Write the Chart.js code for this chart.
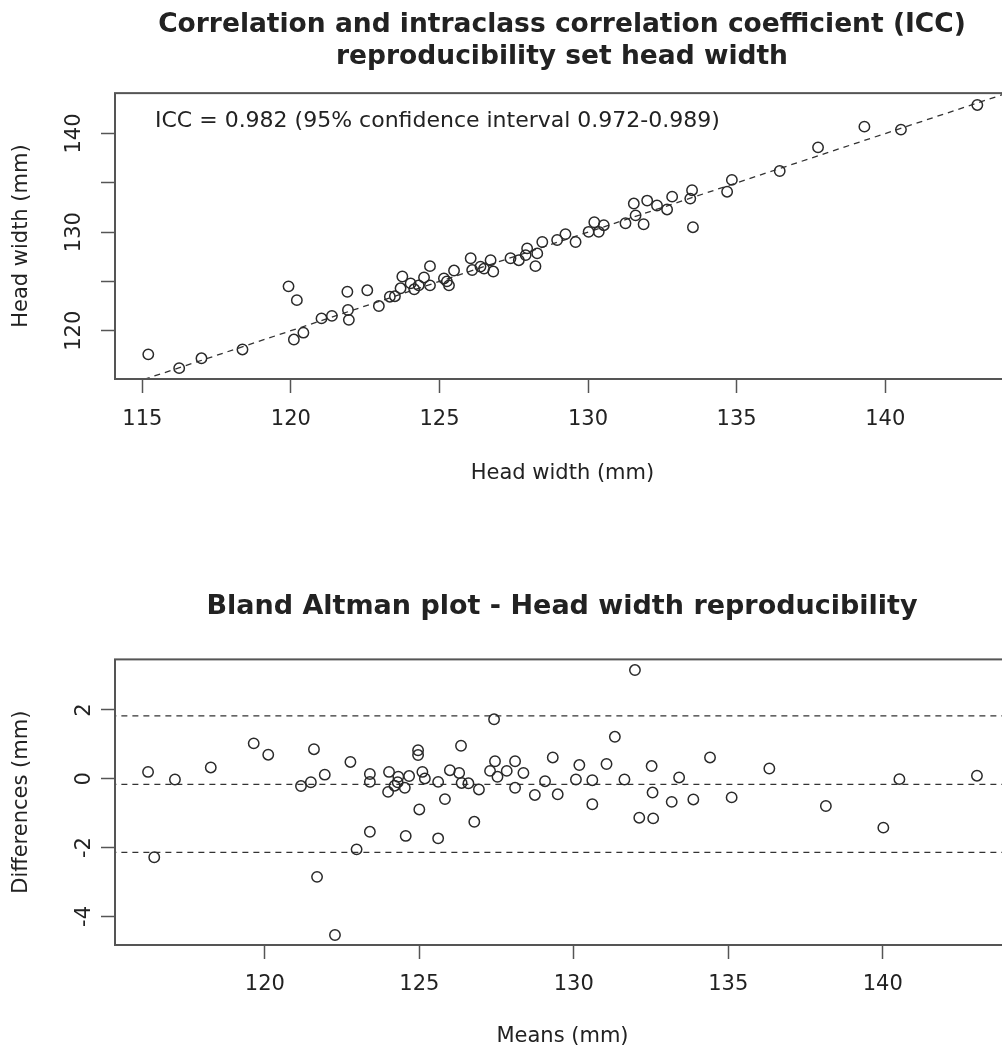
<!DOCTYPE html>
<html>
<head>
<meta charset="utf-8">
<script src="https://cdn.jsdelivr.net/npm/chart.js@4/dist/chart.umd.min.js"></script>
<style>
  body { margin: 0; background: #fff; overflow: hidden; }
  .plot { width: 1124px; height: 525px; }
</style>
</head>
<body>
<div class="plot"><canvas id="iccChart" width="1124" height="525"></canvas></div>
<div class="plot"><canvas id="blandChart" width="1124" height="525"></canvas></div>
<script>
// head width, first and second measurement (mm)
const firstMeasure = [115.2, 116.24, 116.99, 118.37, 119.92, 120.2, 120.1, 120.42, 121.03, 121.38,
  121.9, 121.92, 121.95, 122.57, 122.96, 123.33, 123.5, 123.75, 123.69, 124.03,
  124.15, 124.3, 124.68, 124.48, 124.68, 125.15, 125.32, 125.25, 125.49, 126.05,
  126.1, 126.38, 126.5, 126.72, 126.81, 127.39, 127.67, 127.95, 127.9, 128.29,
  128.23, 128.46, 128.96, 129.24, 129.58, 130.02, 130.21, 130.36, 130.53, 131.26,
  131.54, 131.6, 131.87, 131.99, 132.32, 132.66, 132.83, 133.5, 133.44, 133.53,
  134.84, 134.68, 136.45, 137.74, 139.3, 140.53, 143.1];
const secondMeasure = [117.6, 116.2, 117.2, 118.1, 124.5, 123.1, 119.1, 119.8, 121.25, 121.5,
  123.95, 122.1, 121.1, 124.1, 122.5, 123.45, 123.5, 125.5, 124.3, 124.8,
  124.2, 124.6, 126.55, 125.4, 124.6, 125.3, 124.6, 125.0, 126.1, 127.35,
  126.15, 126.5, 126.3, 127.15, 126.0, 127.35, 127.15, 128.35, 127.67, 127.84,
  126.55, 129.0, 129.2, 129.8, 129.0, 130.03, 131.0, 130.03, 130.7, 130.9,
  132.9, 131.7, 130.8, 133.2, 132.7, 132.3, 133.6, 134.25, 133.4, 130.5,
  135.3, 134.1, 136.2, 138.6, 140.7, 140.4, 142.9];
const identityEnds = [114, 145];
const iccText = 'ICC = 0.982 (95% confidence interval 0.972-0.989)';

// Bland Altman: means and differences (mm)
const baMeans = [116.22, 116.42, 117.09, 118.25, 119.64, 120.11, 121.17, 121.49, 121.59, 121.69,
  121.94, 122.27, 122.77, 122.97, 123.40, 123.40, 123.40, 124.02, 123.99, 124.32,
  124.30, 124.20, 124.53, 124.67, 124.56, 124.96, 124.96, 125.00, 125.10, 125.18,
  125.61, 125.61, 125.83, 125.99, 126.29, 126.35, 126.37, 126.59, 126.78, 126.93,
  127.29, 127.42, 127.45, 127.53, 127.83, 128.10, 128.10, 128.37, 128.74, 129.07,
  129.32, 129.48, 130.07, 130.18, 130.60, 130.60, 131.06, 131.33, 131.64, 131.98,
  132.12, 132.52, 132.55, 132.57, 133.17, 133.41, 133.87, 134.41, 135.11, 136.33,
  138.16, 140.02, 140.54, 143.05];
const baDiffs = [0.20, -2.28, -0.02, 0.33, 1.03, 0.70, -0.21, -0.10, 0.86, -2.85,
  0.12, -4.54, 0.49, -2.05, 0.14, -0.09, -1.54, 0.20, -0.38, 0.06,
  -0.10, -0.20, -0.26, 0.08, -1.66, 0.83, 0.69, -0.89, 0.20, 0.01,
  -0.09, -1.73, -0.59, 0.25, 0.17, 0.96, -0.12, -0.13, -1.25, -0.31,
  0.23, 1.73, 0.51, 0.06, 0.23, 0.51, -0.26, 0.17, -0.47, -0.07,
  0.62, -0.45, -0.02, 0.40, -0.04, -0.74, 0.43, 1.22, -0.02, 3.16,
  -1.13, 0.37, -0.40, -1.15, -0.67, 0.04, -0.60, 0.62, -0.54, 0.30,
  -0.79, -1.42, -0.01, 0.09];
const baLines = [1.83, -0.16, -2.14];   // upper limit, mean difference, lower limit
const baXEnds = [115, 145];

const FONT = '"DejaVu Sans", sans-serif';
const INK = '#222';

// box round the plot region, like R's box()
const boxPlugin = {
  id: 'box',
  afterDatasetsDraw(chart) {
    const a = chart.chartArea;
    const ctx = chart.ctx;
    ctx.save();
    ctx.strokeStyle = '#555';
    ctx.lineWidth = 2;
    ctx.strokeRect(a.left, a.top, a.right - a.left, a.bottom - a.top);
    ctx.restore();
  }
};

const iccLabel = {
  id: 'iccLabel',
  afterDraw(chart) {
    const a = chart.chartArea;
    const ctx = chart.ctx;
    ctx.save();
    ctx.font = '22px ' + FONT;
    ctx.fillStyle = INK;
    ctx.textBaseline = 'middle';
    ctx.fillText(iccText, a.left + 40, a.top + 28);
    ctx.restore();
  }
};

function axisX(min, max, title, labelPad, titlePad, height) {
  return {
    type: 'linear', min: min, max: max,
    grid: { drawOnChartArea: false, tickLength: 14, tickColor: '#555', tickWidth: 1.5 },
    border: { display: false },
    ticks: { stepSize: 5, includeBounds: false, padding: labelPad, color: INK, font: { family: FONT, size: 21 } },
    title: { display: true, text: title, color: INK, font: { family: FONT, size: 21 }, padding: { top: 0, bottom: titlePad } },
    afterFit(scale) { scale.height = height; }
  };
}

function axisY(min, max, step, labels, title) {
  return {
    type: 'linear', min: min, max: max,
    grid: { drawOnChartArea: false, tickLength: 14, tickColor: '#555', tickWidth: 1.5 },
    border: { display: false },
    ticks: {
      stepSize: step, includeBounds: false, minRotation: 90, maxRotation: 90,
      crossAlign: 'center', padding: 6, color: INK, font: { family: FONT, size: 21 },
      callback: v => labels.includes(v) ? String(v) : ''
    },
    title: { display: true, text: title, color: INK, font: { family: FONT, size: 21 }, padding: { top: 9, bottom: 0 } },
    afterFit(scale) { scale.width = 115; }
  };
}

// empty right-hand margin, so the title stays centred on the full page width
const spacer = {
  type: 'linear', position: 'right', display: true,
  grid: { display: false }, border: { display: false }, ticks: { display: false },
  afterFit(scale) { scale.width = 114; }
};

const pointStyle = {
  pointRadius: 5.2, pointHoverRadius: 5.2, pointBorderWidth: 1.5,
  pointBackgroundColor: 'rgba(0,0,0,0)', pointBorderColor: '#2a2a2a', showLine: false
};

function dashed(points) {
  return {
    type: 'line', data: points, showLine: true, pointRadius: 0,
    borderColor: '#333', borderWidth: 1.3, borderDash: [6, 5], fill: false
  };
}

new Chart(document.getElementById('iccChart'), {
  type: 'scatter',
  data: {
    datasets: [
      Object.assign({ data: firstMeasure.map((v, i) => ({ x: v, y: secondMeasure[i] })) }, pointStyle),
      dashed(identityEnds.map(v => ({ x: v, y: v })))
    ]
  },
  options: {
    responsive: false, animation: false,
    layout: { padding: 0 },
    plugins: {
      legend: { display: false }, tooltip: { enabled: false },
      title: {
        display: true,
        text: ['Correlation and intraclass correlation coefficient (ICC)', 'reproducibility set head width'],
        color: INK, font: { family: FONT, size: 26.5, weight: 'bold', lineHeight: 1.21 },
        padding: { top: 9, bottom: 20 }
      }
    },
    scales: {
      x: axisX(114.08, 144.2, 'Head width (mm)', 14, 39, 146),
      y: axisY(115.1, 144.1, 5, [120, 130, 140], 'Head width (mm)'),
      pad: spacer
    }
  },
  plugins: [boxPlugin, iccLabel]
});

new Chart(document.getElementById('blandChart'), {
  type: 'scatter',
  data: {
    datasets: [
      Object.assign({ data: baMeans.map((v, i) => ({ x: v, y: baDiffs[i] })) }, pointStyle)
    ].concat(baLines.map(h => dashed(baXEnds.map(x => ({ x: x, y: h })))))
  },
  options: {
    responsive: false, animation: false,
    layout: { padding: 0 },
    plugins: {
      legend: { display: false }, tooltip: { enabled: false },
      title: {
        display: true,
        text: 'Bland Altman plot - Head width reproducibility',
        color: INK, font: { family: FONT, size: 27, weight: 'bold', lineHeight: 1.2 },
        padding: { top: 66, bottom: 36 }
      }
    },
    scales: {
      x: axisX(115.15, 144.12, 'Means (mm)', 13, 1, 105),
      y: axisY(-4.83, 3.47, 2, [-4, -2, 0, 2], 'Differences (mm)'),
      pad: spacer
    }
  },
  plugins: [boxPlugin]
});
</script>
</body>
</html>
